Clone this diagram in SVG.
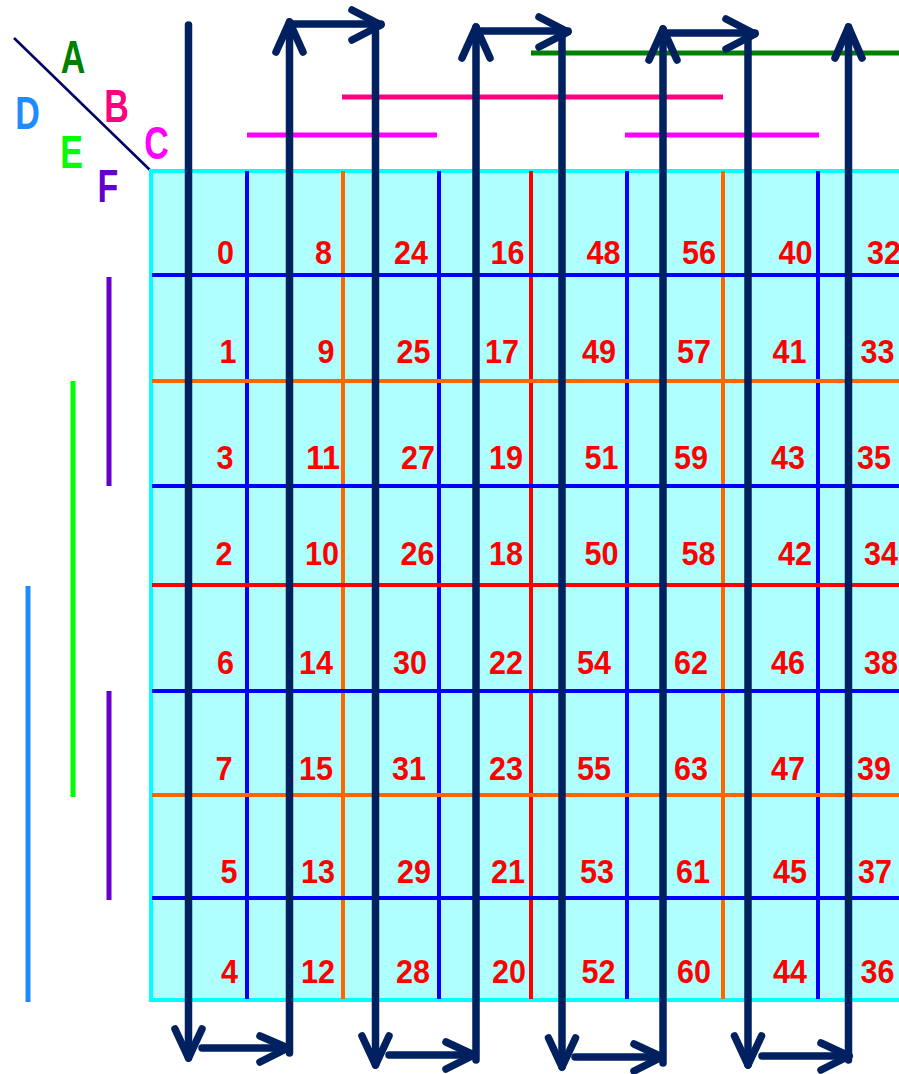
<svg xmlns="http://www.w3.org/2000/svg" width="899" height="1074" viewBox="0 0 899 1074">
<style>
.num{font-family:"Liberation Sans",Arial,sans-serif;font-size:33px;font-weight:bold;fill:#ff0000;text-anchor:middle}
.let{font-family:"Liberation Sans",Arial,sans-serif;font-size:46px;font-weight:bold;text-anchor:middle}
.gl{stroke-width:4;fill:none}
.nv{stroke:#002060;stroke-width:7.5;fill:none;stroke-linecap:round;stroke-linejoin:round}
.bar{stroke-width:5;fill:none}
</style>
<rect x="0" y="0" width="899" height="1074" fill="#ffffff"/>
<g id="legend">
<line x1="14" y1="38" x2="152" y2="172" stroke="#000066" stroke-width="2.5"/>
<text class="let" fill="#008000" transform="translate(73,73) scale(0.74,1)">A</text>
<text class="let" fill="#ff0080" transform="translate(116.5,122) scale(0.74,1)">B</text>
<text class="let" fill="#ff00ff" transform="translate(156.5,159) scale(0.74,1)">C</text>
<text class="let" fill="#1e8cff" transform="translate(27.5,129) scale(0.74,1)">D</text>
<text class="let" fill="#00ff00" transform="translate(71.5,168) scale(0.74,1)">E</text>
<text class="let" fill="#6600cc" transform="translate(108,202) scale(0.74,1)">F</text>
</g>
<g id="var-bars">
<line class="bar" x1="531" y1="53" x2="899" y2="53" stroke="#008000"/>
<line class="bar" x1="342" y1="97" x2="723" y2="97" stroke="#ff0080"/>
<line class="bar" x1="247" y1="135" x2="437" y2="135" stroke="#ff00ff"/>
<line class="bar" x1="625" y1="135" x2="819" y2="135" stroke="#ff00ff"/>
<line class="bar" x1="109" y1="277" x2="109" y2="486" stroke="#6600cc"/>
<line class="bar" x1="109" y1="691" x2="109" y2="900" stroke="#6600cc"/>
<line class="bar" x1="73" y1="381" x2="73" y2="797" stroke="#00ff00"/>
<line class="bar" x1="28" y1="586" x2="28" y2="1002" stroke="#1e8cff"/>
</g>
<g id="kmap">
<rect x="151" y="171" width="760" height="829" fill="#b0ffff" stroke="#00ffff" stroke-width="4"/>
<line class="gl" stroke="#0000ff" x1="247" y1="171" x2="247" y2="999"/>
<line class="gl" stroke="#ff6600" x1="343" y1="171" x2="343" y2="999"/>
<line class="gl" stroke="#0000ff" x1="439" y1="171" x2="439" y2="999"/>
<line class="gl" stroke="#ff0000" x1="531" y1="171" x2="531" y2="999"/>
<line class="gl" stroke="#0000ff" x1="627" y1="171" x2="627" y2="999"/>
<line class="gl" stroke="#ff6600" x1="723" y1="171" x2="723" y2="999"/>
<line class="gl" stroke="#0000ff" x1="818" y1="171" x2="818" y2="999"/>
<line class="gl" stroke="#0000ff" x1="152" y1="275" x2="899" y2="275"/>
<line class="gl" stroke="#ff6600" x1="152" y1="381" x2="899" y2="381"/>
<line class="gl" stroke="#0000ff" x1="152" y1="486" x2="899" y2="486"/>
<line class="gl" stroke="#ff0000" x1="152" y1="585" x2="899" y2="585"/>
<line class="gl" stroke="#0000ff" x1="152" y1="691" x2="899" y2="691"/>
<line class="gl" stroke="#ff6600" x1="152" y1="795" x2="899" y2="795"/>
<line class="gl" stroke="#0000ff" x1="152" y1="898" x2="899" y2="898"/>
</g>
<g id="cells">
<g id="r1"><text class="num" x="225.5" y="264" textLength="17" lengthAdjust="spacingAndGlyphs">0</text><text class="num" x="323.5" y="264" textLength="17" lengthAdjust="spacingAndGlyphs">8</text><text class="num" x="411" y="264" textLength="34" lengthAdjust="spacingAndGlyphs">24</text><text class="num" x="507.5" y="264" textLength="34" lengthAdjust="spacingAndGlyphs">16</text><text class="num" x="603.5" y="264" textLength="34" lengthAdjust="spacingAndGlyphs">48</text><text class="num" x="699" y="264" textLength="34" lengthAdjust="spacingAndGlyphs">56</text><text class="num" x="795.5" y="264" textLength="34" lengthAdjust="spacingAndGlyphs">40</text><text class="num" x="884" y="264" textLength="34" lengthAdjust="spacingAndGlyphs">32</text></g>
<g id="r2"><text class="num" x="228" y="363" textLength="17" lengthAdjust="spacingAndGlyphs">1</text><text class="num" x="326" y="363" textLength="17" lengthAdjust="spacingAndGlyphs">9</text><text class="num" x="413.5" y="363" textLength="34" lengthAdjust="spacingAndGlyphs">25</text><text class="num" x="502" y="363" textLength="34" lengthAdjust="spacingAndGlyphs">17</text><text class="num" x="599" y="363" textLength="34" lengthAdjust="spacingAndGlyphs">49</text><text class="num" x="694" y="363" textLength="34" lengthAdjust="spacingAndGlyphs">57</text><text class="num" x="789.5" y="363" textLength="34" lengthAdjust="spacingAndGlyphs">41</text><text class="num" x="877.5" y="363" textLength="34" lengthAdjust="spacingAndGlyphs">33</text></g>
<g id="r3"><text class="num" x="225" y="469" textLength="17" lengthAdjust="spacingAndGlyphs">3</text><text class="num" x="323" y="469" textLength="34" lengthAdjust="spacingAndGlyphs">11</text><text class="num" x="418" y="469" textLength="34" lengthAdjust="spacingAndGlyphs">27</text><text class="num" x="506" y="469" textLength="34" lengthAdjust="spacingAndGlyphs">19</text><text class="num" x="601.5" y="469" textLength="34" lengthAdjust="spacingAndGlyphs">51</text><text class="num" x="691" y="469" textLength="34" lengthAdjust="spacingAndGlyphs">59</text><text class="num" x="788" y="469" textLength="34" lengthAdjust="spacingAndGlyphs">43</text><text class="num" x="874" y="469" textLength="34" lengthAdjust="spacingAndGlyphs">35</text></g>
<g id="r4"><text class="num" x="224" y="565" textLength="17" lengthAdjust="spacingAndGlyphs">2</text><text class="num" x="322" y="565" textLength="34" lengthAdjust="spacingAndGlyphs">10</text><text class="num" x="417.5" y="565" textLength="34" lengthAdjust="spacingAndGlyphs">26</text><text class="num" x="506" y="565" textLength="34" lengthAdjust="spacingAndGlyphs">18</text><text class="num" x="601.5" y="565" textLength="34" lengthAdjust="spacingAndGlyphs">50</text><text class="num" x="698.5" y="565" textLength="34" lengthAdjust="spacingAndGlyphs">58</text><text class="num" x="795" y="565" textLength="34" lengthAdjust="spacingAndGlyphs">42</text><text class="num" x="881" y="565" textLength="34" lengthAdjust="spacingAndGlyphs">34</text></g>
<g id="r5"><text class="num" x="225.5" y="674" textLength="17" lengthAdjust="spacingAndGlyphs">6</text><text class="num" x="316" y="674" textLength="34" lengthAdjust="spacingAndGlyphs">14</text><text class="num" x="410" y="674" textLength="34" lengthAdjust="spacingAndGlyphs">30</text><text class="num" x="506" y="674" textLength="34" lengthAdjust="spacingAndGlyphs">22</text><text class="num" x="594" y="674" textLength="34" lengthAdjust="spacingAndGlyphs">54</text><text class="num" x="691" y="674" textLength="34" lengthAdjust="spacingAndGlyphs">62</text><text class="num" x="788" y="674" textLength="34" lengthAdjust="spacingAndGlyphs">46</text><text class="num" x="881" y="674" textLength="34" lengthAdjust="spacingAndGlyphs">38</text></g>
<g id="r6"><text class="num" x="224" y="780" textLength="17" lengthAdjust="spacingAndGlyphs">7</text><text class="num" x="316" y="780" textLength="34" lengthAdjust="spacingAndGlyphs">15</text><text class="num" x="409" y="780" textLength="34" lengthAdjust="spacingAndGlyphs">31</text><text class="num" x="506" y="780" textLength="34" lengthAdjust="spacingAndGlyphs">23</text><text class="num" x="594" y="780" textLength="34" lengthAdjust="spacingAndGlyphs">55</text><text class="num" x="691" y="780" textLength="34" lengthAdjust="spacingAndGlyphs">63</text><text class="num" x="788" y="780" textLength="34" lengthAdjust="spacingAndGlyphs">47</text><text class="num" x="874" y="780" textLength="34" lengthAdjust="spacingAndGlyphs">39</text></g>
<g id="r7"><text class="num" x="229" y="883" textLength="17" lengthAdjust="spacingAndGlyphs">5</text><text class="num" x="318" y="883" textLength="34" lengthAdjust="spacingAndGlyphs">13</text><text class="num" x="414" y="883" textLength="34" lengthAdjust="spacingAndGlyphs">29</text><text class="num" x="508" y="883" textLength="34" lengthAdjust="spacingAndGlyphs">21</text><text class="num" x="597" y="883" textLength="34" lengthAdjust="spacingAndGlyphs">53</text><text class="num" x="693" y="883" textLength="34" lengthAdjust="spacingAndGlyphs">61</text><text class="num" x="790" y="883" textLength="34" lengthAdjust="spacingAndGlyphs">45</text><text class="num" x="875" y="883" textLength="34" lengthAdjust="spacingAndGlyphs">37</text></g>
<g id="r8"><text class="num" x="229.5" y="983" textLength="17" lengthAdjust="spacingAndGlyphs">4</text><text class="num" x="318" y="983" textLength="34" lengthAdjust="spacingAndGlyphs">12</text><text class="num" x="413" y="983" textLength="34" lengthAdjust="spacingAndGlyphs">28</text><text class="num" x="509" y="983" textLength="34" lengthAdjust="spacingAndGlyphs">20</text><text class="num" x="598.5" y="983" textLength="34" lengthAdjust="spacingAndGlyphs">52</text><text class="num" x="694" y="983" textLength="34" lengthAdjust="spacingAndGlyphs">60</text><text class="num" x="790" y="983" textLength="34" lengthAdjust="spacingAndGlyphs">44</text><text class="num" x="877.5" y="983" textLength="34" lengthAdjust="spacingAndGlyphs">36</text></g>
</g>
<g id="connectors">
<line class="nv" x1="188.5" y1="25" x2="188.5" y2="1058"/>
<polyline class="nv" points="175,1029 188.5,1058 202,1029"/>
<line class="nv" x1="202" y1="1048" x2="288" y2="1048"/>
<polyline class="nv" points="260,1036 288,1048 260,1062"/>
<line class="nv" x1="289.5" y1="1053" x2="289.5" y2="22"/>
<polyline class="nv" points="276,52 289.5,22 303,52"/>
<line class="nv" x1="289.5" y1="24" x2="381" y2="24"/>
<polyline class="nv" points="352,10 381,25 352,40"/>
<line class="nv" x1="375.5" y1="32" x2="375.5" y2="1065"/>
<polyline class="nv" points="362,1036 375.5,1065 389,1036"/>
<line class="nv" x1="389" y1="1055" x2="474" y2="1055"/>
<polyline class="nv" points="446,1042 474,1055 446,1069"/>
<line class="nv" x1="476" y1="1060" x2="476" y2="27"/>
<polyline class="nv" points="462,58 476,27 490,58"/>
<line class="nv" x1="476" y1="31" x2="568" y2="31"/>
<polyline class="nv" points="539,17 568,32 539,47"/>
<line class="nv" x1="562" y1="33" x2="562" y2="1067"/>
<polyline class="nv" points="548.5,1038 562,1067 575.5,1038"/>
<line class="nv" x1="575" y1="1057" x2="662" y2="1057"/>
<polyline class="nv" points="634,1044 662,1057 634,1071"/>
<line class="nv" x1="663" y1="1063" x2="663" y2="29"/>
<polyline class="nv" points="649,60 663,29 677,60"/>
<line class="nv" x1="663" y1="33" x2="755" y2="33"/>
<polyline class="nv" points="726,19 755,34 726,49"/>
<line class="nv" x1="748" y1="35" x2="748" y2="1065"/>
<polyline class="nv" points="734.5,1036 748,1065 761.5,1036"/>
<line class="nv" x1="762" y1="1056" x2="849" y2="1056"/>
<polyline class="nv" points="821,1043 849,1056 821,1070"/>
<line class="nv" x1="848.5" y1="1060" x2="848.5" y2="27"/>
<polyline class="nv" points="835,58 848.5,27 862,58"/>
</g>
</svg>
